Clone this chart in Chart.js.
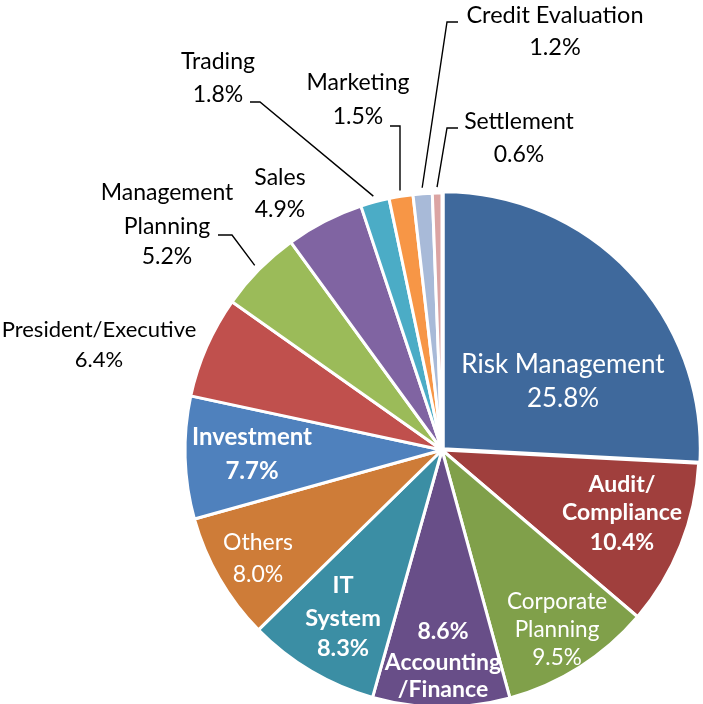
<!DOCTYPE html>
<html>
<head>
<meta charset="utf-8">
<title>Share by department</title>
<script src="https://cdn.jsdelivr.net/npm/chart.js@4.4.1/dist/chart.umd.min.js"></script>
<style>
  html, body { margin: 0; padding: 0; background: #ffffff; }
  #wrap { width: 703px; height: 704px; }
</style>
</head>
<body>
<div id="wrap"><canvas id="deptChart" width="703" height="704"></canvas></div>
<script>
/**************************************************
 * DATA
 **************************************************/
const departments = [
  "Risk Management", "Audit/Compliance", "Corporate Planning", "Accounting/Finance",
  "IT System", "Others", "Investment", "President/Executive", "Management Planning",
  "Sales", "Trading", "Marketing", "Credit Evaluation", "Settlement"
];
const shares = [25.8, 10.4, 9.5, 8.6, 8.3, 8.0, 7.7, 6.4, 5.2, 4.9, 1.8, 1.5, 1.2, 0.6];

const sliceColors = [
  "#3f699c", "#a03f3d", "#80a04a", "#684e88", "#3b8ea4", "#ce7c38", "#4f81bd",
  "#c0504d", "#9bbb59", "#8064a2", "#4bacc6", "#f79646", "#a8bad8", "#dba4a3"
];

/**************************************************
 * LABEL LAYOUT ({v} = value of the slice)
 **************************************************/
const FONT = "Lato, Carlito, Calibri, sans-serif";
const labelLayout = [
  { lines: ["Risk Management", "{v}"], x: 563, y: [365, 399], font: "26px", color: "#fff" },
  { lines: ["Audit/", "Compliance", "{v}"], x: 622, y: [485, 513, 543], font: "bold 23px", color: "#fff" },
  { lines: ["Corporate", "Planning", "{v}"], x: 557, y: [602, 630, 658], font: "22.5px", color: "#fff" },
  { lines: ["{v}", "Accounting", "/Finance"], x: 443, y: [632, 663, 690], font: "bold 23px", color: "#fff" },
  { lines: ["IT", "System", "{v}"], x: 343, y: [585, 618, 648], font: "bold 23.5px", color: "#fff" },
  { lines: ["Others", "{v}"], x: 258, y: [543, 575], font: "23px", color: "#fff" },
  { lines: ["Investment", "{v}"], x: 252, y: [437, 471], font: "bold 24px", color: "#fff" },
  { lines: ["President/Executive", "{v}"], x: 99, y: [330, 360], font: "22px", color: "#000" },
  { lines: ["Management", "Planning", "{v}"], x: 167, y: [193, 227, 257], font: "23px", color: "#000",
    leader: [[218, 235], [232, 235]] },
  { lines: ["Sales", "{v}"], x: 280, y: [178, 210], font: "23px", color: "#000" },
  { lines: ["Trading", "{v}"], x: 218, y: [62, 95], font: "23px", color: "#000",
    leader: [[250, 102], [260, 102]] },
  { lines: ["Marketing", "{v}"], x: 358, y: [83, 117], font: "23px", color: "#000",
    leader: [[390, 126], [400, 126]] },
  { lines: ["Credit Evaluation", "{v}"], x: 555, y: [15, 47], font: "23.5px", color: "#000",
    leader: [[458, 22], [447, 22]] },
  { lines: ["Settlement", "{v}"], x: 519, y: [122, 155], font: "23px", color: "#000",
    leader: [[458, 128], [447, 128]] }
];

/**************************************************
 * LABEL PLUGIN
 **************************************************/
const sliceLabels = {
  id: "sliceLabels",
  afterDatasetsDraw(chart) {
    const ctx = chart.ctx;
    const meta = chart.getDatasetMeta(0);
    const values = chart.data.datasets[0].data;

    ctx.save();
    meta.data.forEach((arc, i) => {
      const cfg = labelLayout[i];
      if (!cfg) return;
      const p = arc.getProps(["x", "y", "startAngle", "endAngle", "outerRadius"], true);

      // leader line from text to the outer edge of the slice
      if (cfg.leader) {
        const mid = (p.startAngle + p.endAngle) / 2;
        const ex = p.x + Math.cos(mid) * (p.outerRadius + 6);
        const ey = p.y + Math.sin(mid) * (p.outerRadius + 6);
        ctx.beginPath();
        ctx.moveTo(cfg.leader[0][0], cfg.leader[0][1]);
        for (let k = 1; k < cfg.leader.length; k++) ctx.lineTo(cfg.leader[k][0], cfg.leader[k][1]);
        ctx.lineTo(ex, ey);
        ctx.strokeStyle = "#000";
        ctx.lineWidth = 1.4;
        ctx.stroke();
      }

      ctx.font = cfg.font + " " + FONT;
      ctx.fillStyle = cfg.color;
      ctx.textAlign = "center";
      ctx.textBaseline = "middle";
      cfg.lines.forEach((line, k) => {
        const txt = line.replace("{v}", values[i].toFixed(1) + "%");
        ctx.fillText(txt, cfg.x, cfg.y[k]);
      });
    });
    ctx.restore();
  }
};

/**************************************************
 * PIE CHART
 **************************************************/
function drawDeptChart() {
  const canvas = document.getElementById("deptChart");
  if (!canvas) return;
  const ctx = canvas.getContext("2d");

  new Chart(ctx, {
    type: "pie",
    data: {
      labels: departments,
      datasets: [
        {
          data: shares,
          backgroundColor: sliceColors,
          borderColor: "#ffffff",
          borderWidth: 3,
          offset: shares.map((v, i) => (i === 0 ? 7 : 0)),
          clip: false
        }
      ]
    },
    options: {
      responsive: false,
      devicePixelRatio: 1,
      animation: false,
      radius: 257,
      layout: { padding: { left: 185, right: 4, top: 196, bottom: 0 } },
      plugins: {
        legend: { display: false },
        tooltip: { enabled: false }
      }
    },
    plugins: [sliceLabels]
  });
}

drawDeptChart();
</script>
</body>
</html>
